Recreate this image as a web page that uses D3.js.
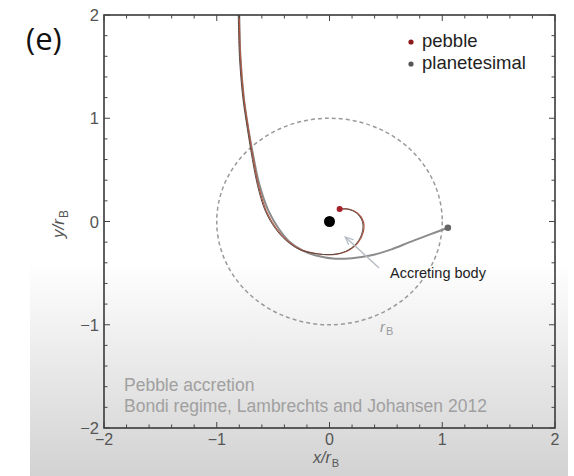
<!DOCTYPE html>
<html>
<head>
<meta charset="utf-8">
<script src="https://cdn.jsdelivr.net/npm/d3@7"></script>
<style>
  html, body { margin: 0; padding: 0; background: #fff; }
  svg { display: block; }
</style>
</head>
<body>
<svg id="chart" width="574" height="476"></svg>
<script>
// Trajectories in units of the Bondi radius r_B
const pebbleX = [-0.80, -0.79, -0.76, -0.72, -0.675, -0.63, -0.56, -0.47, -0.38, -0.26, -0.12, 0.03, 0.15, 0.25, 0.30, 0.30, 0.25, 0.17, 0.09];
const pebbleY = [2.00, 1.60, 1.20, 0.90, 0.60, 0.35, 0.10, -0.07, -0.18, -0.27, -0.31, -0.32, -0.29, -0.21, -0.10, 0.00, 0.08, 0.12, 0.12];

const planetX = [-0.80, -0.79, -0.76, -0.72, -0.67, -0.62, -0.54, -0.45, -0.36, -0.24, -0.12, 0.05, 0.20, 0.36, 0.55, 0.71, 0.88, 1.05];
const planetY = [2.00, 1.60, 1.20, 0.90, 0.60, 0.35, 0.10, -0.07, -0.19, -0.28, -0.33, -0.36, -0.355, -0.33, -0.27, -0.20, -0.13, -0.06];

// Bondi radius circle and the accreting body at the origin
const bondiRadius = 1;
const bodyPos = [0, 0];

// Pointer from the "Accreting body" label
const arrowFrom = [0.44, -0.45];
const arrowTo = [0.14, -0.15];

const xTicks = [-2, -1, 0, 1, 2];
const yTicks = [-2, -1, 0, 1, 2];
const minorStep = 0.2;

const legendItems = ["pebble", "planetesimal"];
const noteLines = ["Pebble accretion", "Bondi regime, Lambrechts and Johansen 2012"];

const svg = d3.select("#chart");
const W = 574, H = 476;
const pLeft = 104, pRight = 555, pTop = 15, pBottom = 428;

const x = d3.scaleLinear().domain([-2, 2]).range([pLeft, pRight]);
const y = d3.scaleLinear().domain([-2, 2]).range([pBottom, pTop]);

const defs = svg.append("defs");
const grad = defs.append("linearGradient")
  .attr("id", "bg").attr("x1", 0).attr("y1", 0).attr("x2", 0).attr("y2", 1);
grad.append("stop").attr("offset", "0%").attr("stop-color", "#ffffff");
grad.append("stop").attr("offset", "55%").attr("stop-color", "#ffffff");
grad.append("stop").attr("offset", "100%").attr("stop-color", "#d2d2d2");

defs.append("clipPath").attr("id", "plotClip")
  .append("rect").attr("x", pLeft).attr("y", pTop)
  .attr("width", pRight - pLeft).attr("height", pBottom - pTop);

defs.append("marker")
  .attr("id", "arrowHead").attr("viewBox", "0 0 10 10")
  .attr("refX", 9).attr("refY", 5)
  .attr("markerWidth", 9).attr("markerHeight", 9)
  .attr("markerUnits", "userSpaceOnUse")
  .attr("orient", "auto")
  .append("path").attr("d", "M0,1 L9,5 L0,9")
  .attr("fill", "none").attr("stroke", "#b5bcc4").attr("stroke-width", 1.4);

svg.append("rect").attr("x", 0).attr("y", 0).attr("width", W).attr("height", H).attr("fill", "#fff");
svg.append("rect").attr("x", 30).attr("y", 0).attr("width", 538).attr("height", H).attr("fill", "url(#bg)");

// Panel label
svg.append("text").attr("x", 26).attr("y", 50)
  .attr("font-family", "'Open Sans', 'Noto Sans', sans-serif")
  .attr("font-size", 31).attr("fill", "#111").text("(e)");

const plot = svg.append("g").attr("clip-path", "url(#plotClip)");

// Bondi radius circle
plot.append("ellipse")
  .attr("cx", x(bodyPos[0])).attr("cy", y(bodyPos[1]))
  .attr("rx", x(bondiRadius) - x(0)).attr("ry", y(0) - y(bondiRadius))
  .attr("fill", "none").attr("stroke", "#9a9a9a")
  .attr("stroke-width", 1.5).attr("stroke-dasharray", "4,3");

const line = d3.line().x(d => x(d[0])).y(d => y(d[1])).curve(d3.curveCatmullRom.alpha(0.5));
const planetPts = planetX.map((v, i) => [v, planetY[i]]);
const pebblePts = pebbleX.map((v, i) => [v, pebbleY[i]]);

plot.append("path").attr("d", line(planetPts))
  .attr("fill", "none").attr("stroke", "#8c8c8c").attr("stroke-width", 2);
plot.append("path").attr("d", line(pebblePts))
  .attr("fill", "none").attr("stroke", "#b4553f").attr("stroke-width", 1.2);
plot.append("path").attr("d", line(pebblePts))
  .attr("fill", "none").attr("stroke", "#5e4a45").attr("stroke-width", 1)
  .attr("transform", "translate(-1,0)");

// Endpoints
plot.append("circle")
  .attr("cx", x(pebbleX[pebbleX.length - 1])).attr("cy", y(pebbleY[pebbleY.length - 1]))
  .attr("r", 3).attr("fill", "#a3202a");
plot.append("circle")
  .attr("cx", x(planetX[planetX.length - 1])).attr("cy", y(planetY[planetY.length - 1]))
  .attr("r", 3.3).attr("fill", "#666");

// Accreting body
plot.append("circle").attr("cx", x(bodyPos[0])).attr("cy", y(bodyPos[1]))
  .attr("r", 5.5).attr("fill", "#000");

// Pointer and label
plot.append("line")
  .attr("x1", x(arrowFrom[0])).attr("y1", y(arrowFrom[1]))
  .attr("x2", x(arrowTo[0])).attr("y2", y(arrowTo[1]))
  .attr("stroke", "#b5bcc4").attr("stroke-width", 1.4)
  .attr("marker-end", "url(#arrowHead)");

const sans = "'Liberation Sans', Arial, Helvetica, sans-serif";

svg.append("text").attr("x", 390).attr("y", 278)
  .attr("font-family", sans).attr("font-size", 14.5).attr("fill", "#222")
  .text("Accreting body");

const rb = svg.append("text").attr("x", 380).attr("y", 332)
  .attr("font-family", sans).attr("font-size", 15).attr("fill", "#9a9a9a");
rb.append("tspan").attr("font-style", "italic").text("r");
rb.append("tspan").attr("font-size", 11).attr("dy", 3).attr("dx", 1).text("B");

// Legend
const legendColors = ["#8b1a1a", "#555"];
legendItems.forEach((name, i) => {
  const ly = 47 + i * 22;
  svg.append("circle").attr("cx", 411).attr("cy", ly - 5).attr("r", 2.6).attr("fill", legendColors[i]);
  svg.append("text").attr("x", 422).attr("y", ly)
    .attr("font-family", sans).attr("font-size", 18.5).attr("fill", "#222")
    .text(name);
});

// Notes
noteLines.forEach((t, i) => {
  svg.append("text").attr("x", 124).attr("y", 391 + i * 21)
    .attr("font-family", sans).attr("font-size", 17.5).attr("fill", "#a0a0a0")
    .text(t);
});

// Frame
svg.append("rect").attr("x", pLeft).attr("y", pTop)
  .attr("width", pRight - pLeft).attr("height", pBottom - pTop)
  .attr("fill", "none").attr("stroke", "#3a3a3a").attr("stroke-width", 1.6);

// Inward ticks on all sides
const minorVals = d3.range(-2, 2.0001, minorStep).map(v => +v.toFixed(2));
const tickG = svg.append("g").attr("stroke", "#444").attr("stroke-width", 1);
minorVals.forEach(v => {
  const major = Math.abs(v - Math.round(v)) < 1e-6;
  const len = major ? 6 : 3.5;
  tickG.append("line").attr("x1", x(v)).attr("x2", x(v)).attr("y1", pBottom).attr("y2", pBottom - len);
  tickG.append("line").attr("x1", x(v)).attr("x2", x(v)).attr("y1", pTop).attr("y2", pTop + len);
  tickG.append("line").attr("y1", y(v)).attr("y2", y(v)).attr("x1", pLeft).attr("x2", pLeft + len);
  tickG.append("line").attr("y1", y(v)).attr("y2", y(v)).attr("x1", pRight).attr("x2", pRight - len);
});

const fmt = v => (v < 0 ? "\u2212" + Math.abs(v) : String(v));

// Tick labels
xTicks.forEach(v => {
  svg.append("text").attr("x", x(v)).attr("y", pBottom + 17)
    .attr("text-anchor", "middle").attr("font-family", sans)
    .attr("font-size", 16).attr("fill", "#555").text(fmt(v));
});
yTicks.forEach(v => {
  svg.append("text").attr("x", pLeft - 5).attr("y", y(v) + 6)
    .attr("text-anchor", "end").attr("font-family", sans)
    .attr("font-size", 16.5).attr("fill", "#555").text(fmt(v));
});

// Axis titles
const xt = svg.append("text").attr("x", 313).attr("y", 463)
  .attr("font-family", sans).attr("font-size", 16).attr("fill", "#555");
xt.append("tspan").attr("font-style", "italic").text("x/r");
xt.append("tspan").attr("font-size", 11).attr("dy", 4).attr("dx", 1).text("B");

const yt = svg.append("text")
  .attr("transform", "translate(64,238) rotate(-90)")
  .attr("font-family", sans).attr("font-size", 17).attr("fill", "#555");
yt.append("tspan").attr("font-style", "italic").text("y/r");
yt.append("tspan").attr("font-size", 12).attr("dy", 4).attr("dx", 1).text("B");
</script>
</body>
</html>
